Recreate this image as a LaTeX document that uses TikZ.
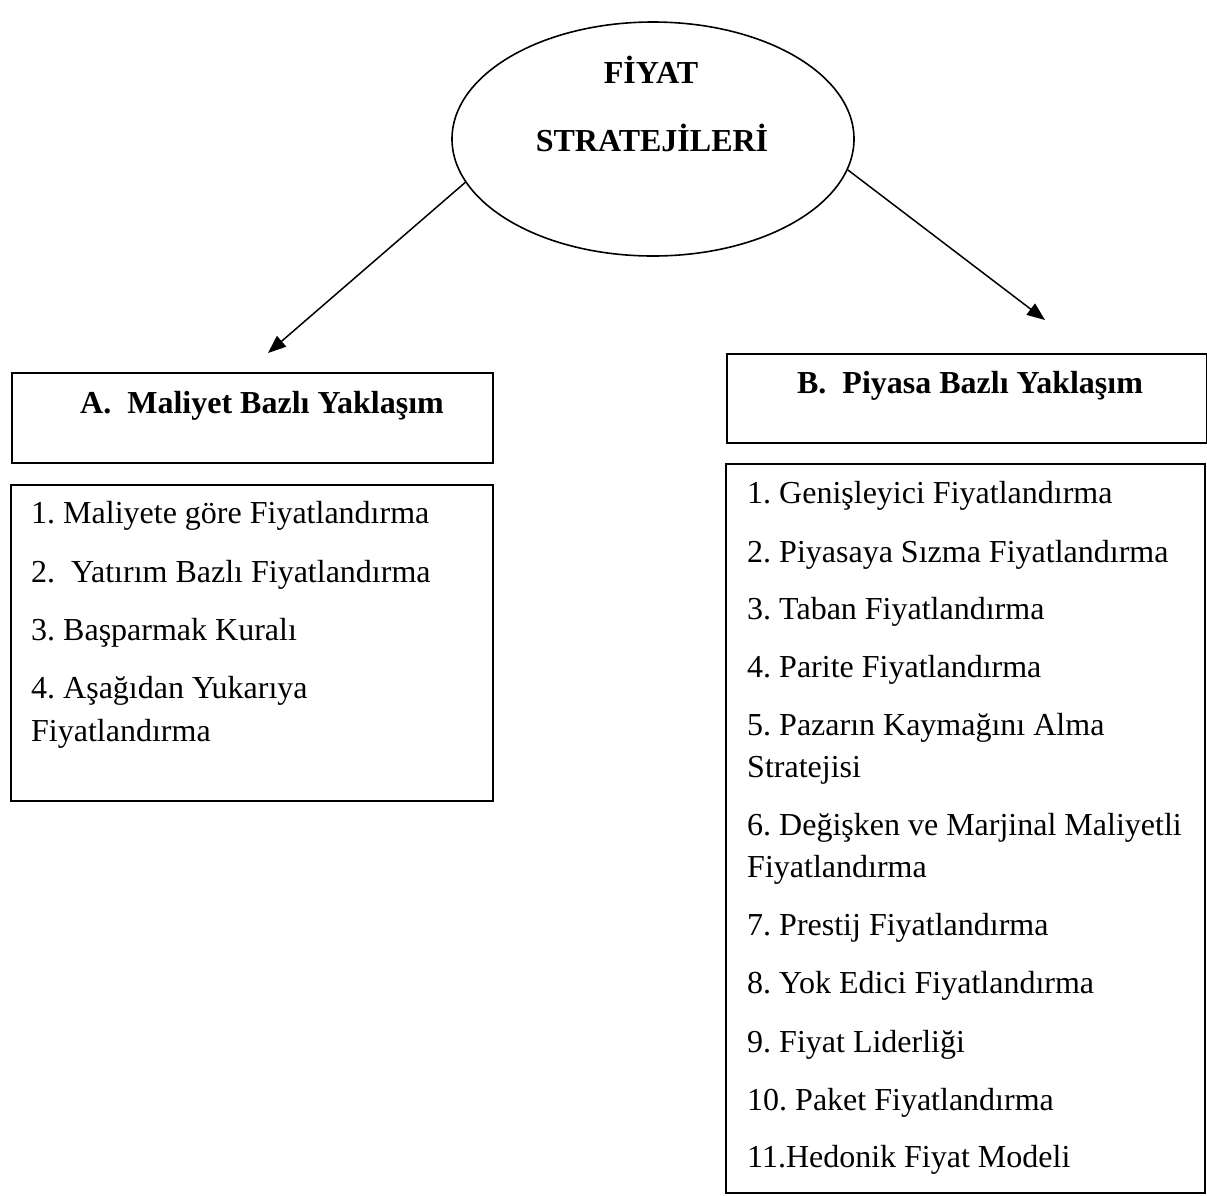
\documentclass[tikz,border=0pt]{standalone}
\usepackage{fontspec}
\setmainfont{Liberation Serif}
\usetikzlibrary{shapes.geometric,arrows.meta}
\frenchspacing
\begin{document}
\begin{tikzpicture}[x=1pt,y=-1pt,
  frame/.style={draw=black,line width=1.6pt,rectangle,anchor=north west,inner sep=0pt},
  ellbox/.style={draw=black,line width=1.6pt,ellipse,inner sep=0pt,minimum width=402pt,minimum height=234pt},
  txt/.style={font=\fontsize{32}{42}\selectfont,inner sep=0pt,anchor=base west},
  head/.style={font=\fontsize{32}{42}\selectfont\bfseries,inner sep=0pt,anchor=base},
  arr/.style={line width=1.5pt,-{Triangle[length=18pt,width=14pt]}}]
\useasboundingbox (0,0) rectangle (1207,1195);
\fill[white] (0,0) rectangle (1207,1195);
% ellipse
\node[ellbox] (ell) at (653,139) {};
\node[head] (t1) at (651,83) {FİYAT};
\node[head] (t2) at (652,151) {STRATEJİLERİ};
% boxes
\node[frame,minimum width=481pt,minimum height=90pt] (boxA) at (11,372) {};
\node[frame,minimum width=482pt,minimum height=316pt] (listA) at (10,484) {};
\node[frame,minimum width=480pt,minimum height=89pt] (boxB) at (726,353) {};
\node[frame,minimum width=479pt,minimum height=729pt] (listB) at (725,463) {};
\node[head] (hA) at (262,413) {A.\ \ Maliyet Bazlı Yaklaşım};
\node[head] (hB) at (970,393) {B.\ \ Piyasa Bazlı Yaklaşım};
% arrows
\coordinate (tipA) at (268,353);
\coordinate (tipB) at (1045,320);
\draw[arr] (ell.193) -- (tipA);
\draw[arr] (ell.351.5) -- (tipB);
% left list
\node[txt] (a1) at (31,523) {1. Maliyete göre Fiyatlandırma};
\node[txt] (a2) at (31,582) {2.\ \ Yatırım Bazlı Fiyatlandırma};
\node[txt] (a3) at (31,640) {3. Başparmak Kuralı};
\node[txt] (a4) at (31,698) {4. Aşağıdan Yukarıya};
\node[txt] (a4b) at (31,741) {Fiyatlandırma};
% right list
\node[txt] (b1) at (747,503) {1. Genişleyici Fiyatlandırma};
\node[txt] (b2) at (747,562) {2. Piyasaya Sızma Fiyatlandırma};
\node[txt] (b3) at (747,619) {3. Taban Fiyatlandırma};
\node[txt] (b4) at (747,677) {4. Parite Fiyatlandırma};
\node[txt] (b5) at (747,735) {5. Pazarın Kaymağını Alma};
\node[txt] (b5b) at (747,777) {Stratejisi};
\node[txt] (b6) at (747,835) {6. Değişken ve Marjinal Maliyetli};
\node[txt] (b6b) at (747,877) {Fiyatlandırma};
\node[txt] (b7) at (747,935) {7. Prestij Fiyatlandırma};
\node[txt] (b8) at (747,993) {8. Yok Edici Fiyatlandırma};
\node[txt] (b9) at (747,1052) {9. Fiyat Liderliği};
\node[txt] (b10) at (747,1110) {10. Paket Fiyatlandırma};
\node[txt] (b11) at (747,1167) {11.Hedonik Fiyat Modeli};
\end{tikzpicture}
\end{document}
